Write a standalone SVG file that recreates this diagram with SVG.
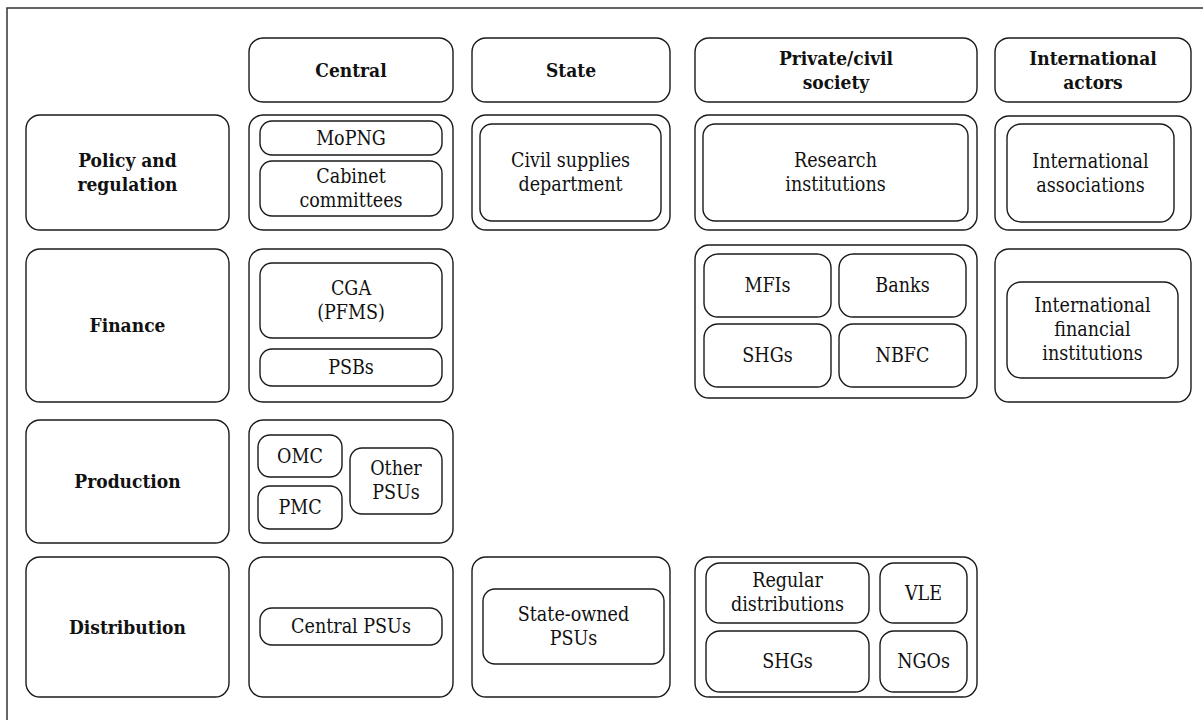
<svg xmlns="http://www.w3.org/2000/svg" width="1203" height="720" viewBox="0 0 1203 720">
<style>
.bg{fill:#ffffff}
.frame{fill:none;stroke:#333333;stroke-width:1.5}
.o{fill:#ffffff;stroke:#1a1a1a;stroke-width:1.4}
.i{fill:#ffffff;stroke:#1a1a1a;stroke-width:1.4}
.h{font-family:"DejaVu Serif","Liberation Serif",serif;font-stretch:condensed;font-weight:bold;font-size:19px;fill:#111111;text-anchor:middle}
.t{font-family:"DejaVu Serif","Liberation Serif",serif;font-stretch:condensed;font-size:19.5px;fill:#111111;text-anchor:middle}
</style>
<rect class="bg" x="0" y="0" width="1203" height="720"/>
<path class="frame" d="M7,730 V8 H1210"/>

<g id="col-central">
<rect class="o" x="249" y="38" width="204" height="64" rx="14"/>
<text class="h" x="351" y="77">Central</text>
</g>
<g id="col-state">
<rect class="o" x="472" y="38" width="198" height="64" rx="14"/>
<text class="h" x="571" y="77">State</text>
</g>
<g id="col-private">
<rect class="o" x="695" y="38" width="282" height="64" rx="14"/>
<text class="h" x="836" y="64.5">Private/civil</text>
<text class="h" x="836" y="88.5">society</text>
</g>
<g id="col-international">
<rect class="o" x="995" y="38" width="196" height="64" rx="14"/>
<text class="h" x="1093" y="64.5">International</text>
<text class="h" x="1093" y="88.5">actors</text>
</g>

<g id="row-policy">
<rect class="o" x="26" y="115" width="203" height="115" rx="14"/>
<text class="h" x="127.5" y="167">Policy and</text>
<text class="h" x="127.5" y="191">regulation</text>
</g>
<g id="row-finance">
<rect class="o" x="26" y="249" width="203" height="153" rx="14"/>
<text class="h" x="127.5" y="332">Finance</text>
</g>
<g id="row-production">
<rect class="o" x="26" y="420" width="203" height="123" rx="14"/>
<text class="h" x="127.5" y="488">Production</text>
</g>
<g id="row-distribution">
<rect class="o" x="26" y="557" width="203" height="140" rx="14"/>
<text class="h" x="127.5" y="633.5">Distribution</text>
</g>

<g id="central-policy">
<rect class="o" x="249" y="115" width="204" height="115" rx="14"/>
<g id="mopng"><rect class="i" x="260" y="121" width="182" height="34" rx="12"/>
<text class="t" x="351" y="144.5">MoPNG</text></g>
<g id="cabinet"><rect class="i" x="260" y="161" width="182" height="55" rx="12"/>
<text class="t" x="351" y="183">Cabinet</text>
<text class="t" x="351" y="207">committees</text></g>
</g>
<g id="central-finance">
<rect class="o" x="249" y="249" width="204" height="153" rx="14"/>
<g id="cga"><rect class="i" x="260" y="263" width="182" height="75" rx="12"/>
<text class="t" x="351" y="295">CGA</text>
<text class="t" x="351" y="319">(PFMS)</text></g>
<g id="psbs"><rect class="i" x="260" y="349" width="182" height="37" rx="12"/>
<text class="t" x="351" y="374">PSBs</text></g>
</g>
<g id="central-production">
<rect class="o" x="249" y="420" width="204" height="123" rx="14"/>
<g id="omc"><rect class="i" x="258" y="435" width="84" height="42" rx="12"/>
<text class="t" x="300" y="462.5">OMC</text></g>
<g id="pmc"><rect class="i" x="258" y="486" width="84" height="43" rx="12"/>
<text class="t" x="300" y="514">PMC</text></g>
<g id="other-psus"><rect class="i" x="350" y="448" width="92" height="66" rx="12"/>
<text class="t" x="396" y="475">Other</text>
<text class="t" x="396" y="499">PSUs</text></g>
</g>
<g id="central-distribution">
<rect class="o" x="249" y="557" width="204" height="140" rx="14"/>
<g id="central-psus"><rect class="i" x="260" y="608" width="182" height="37" rx="12"/>
<text class="t" x="351" y="633">Central PSUs</text></g>
</g>

<g id="state-policy">
<rect class="o" x="472" y="115" width="198" height="115" rx="14"/>
<g id="civil-supplies"><rect class="i" x="480" y="124" width="181" height="97" rx="12"/>
<text class="t" x="570.5" y="167">Civil supplies</text>
<text class="t" x="570.5" y="191">department</text></g>
</g>
<g id="state-distribution">
<rect class="o" x="472" y="557" width="198" height="140" rx="14"/>
<g id="state-owned"><rect class="i" x="483" y="589" width="181" height="75" rx="12"/>
<text class="t" x="573.5" y="621">State-owned</text>
<text class="t" x="573.5" y="645">PSUs</text></g>
</g>

<g id="private-policy">
<rect class="o" x="695" y="115" width="282" height="115" rx="14"/>
<g id="research"><rect class="i" x="703" y="124" width="265" height="97" rx="12"/>
<text class="t" x="835.5" y="167">Research</text>
<text class="t" x="835.5" y="191">institutions</text></g>
</g>
<g id="private-finance">
<rect class="o" x="695" y="245" width="282" height="153" rx="14"/>
<g id="mfis"><rect class="i" x="704" y="254" width="127" height="63" rx="14"/>
<text class="t" x="767.5" y="292">MFIs</text></g>
<g id="banks"><rect class="i" x="839" y="254" width="127" height="63" rx="14"/>
<text class="t" x="902.5" y="292">Banks</text></g>
<g id="shgs-fin"><rect class="i" x="704" y="324" width="127" height="63" rx="14"/>
<text class="t" x="767.5" y="362">SHGs</text></g>
<g id="nbfc"><rect class="i" x="839" y="324" width="127" height="63" rx="14"/>
<text class="t" x="902.5" y="362">NBFC</text></g>
</g>
<g id="private-distribution">
<rect class="o" x="695" y="557" width="282" height="140" rx="14"/>
<g id="regular"><rect class="i" x="706" y="563" width="163" height="60" rx="14"/>
<text class="t" x="787.5" y="587">Regular</text>
<text class="t" x="787.5" y="611">distributions</text></g>
<g id="vle"><rect class="i" x="880" y="563" width="87" height="60" rx="14"/>
<text class="t" x="923.5" y="600">VLE</text></g>
<g id="shgs-dist"><rect class="i" x="706" y="631" width="163" height="61" rx="14"/>
<text class="t" x="787.5" y="668">SHGs</text></g>
<g id="ngos"><rect class="i" x="880" y="631" width="87" height="61" rx="14"/>
<text class="t" x="923.5" y="668">NGOs</text></g>
</g>

<g id="intl-policy">
<rect class="o" x="995" y="116" width="196" height="114" rx="14"/>
<g id="intl-assoc"><rect class="i" x="1007" y="124" width="167" height="98" rx="14"/>
<text class="t" x="1090.5" y="167.5">International</text>
<text class="t" x="1090.5" y="191.5">associations</text></g>
</g>
<g id="intl-finance">
<rect class="o" x="995" y="249" width="196" height="153" rx="14"/>
<g id="ifi"><rect class="i" x="1007" y="282" width="171" height="96" rx="14"/>
<text class="t" x="1092.5" y="312">International</text>
<text class="t" x="1092.5" y="336">financial</text>
<text class="t" x="1092.5" y="360">institutions</text></g>
</g>
</svg>
